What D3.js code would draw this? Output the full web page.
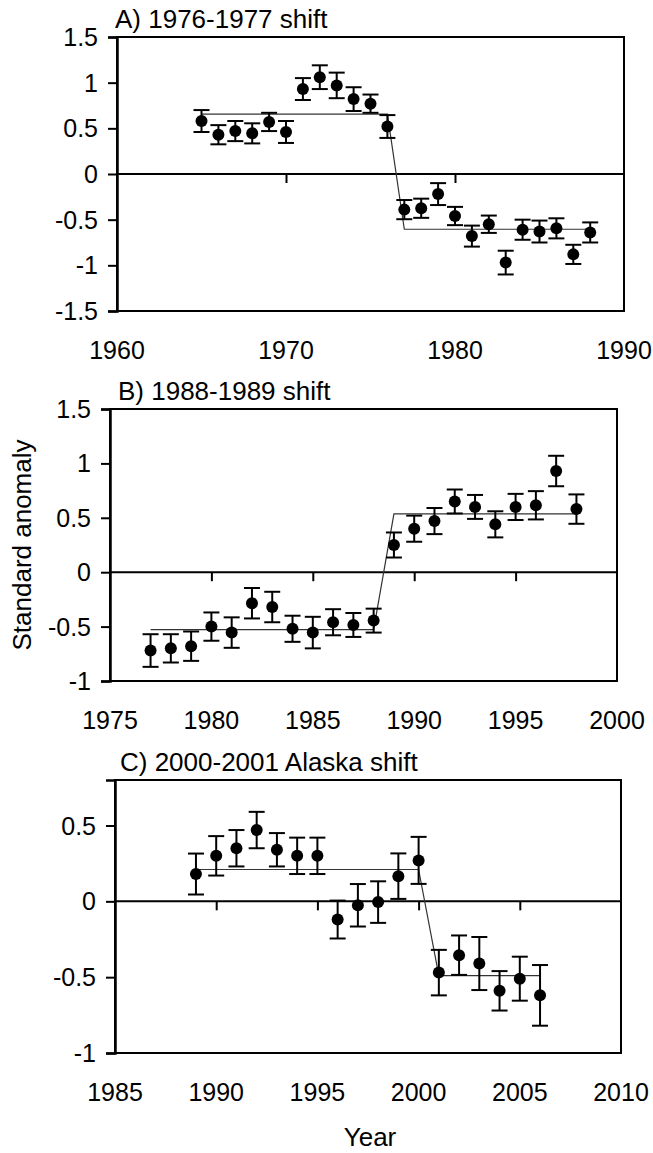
<!DOCTYPE html>
<html><head><meta charset="utf-8">
<script src="https://cdn.jsdelivr.net/npm/d3@7"></script>
<style>
html,body{margin:0;padding:0;background:#fff;}
svg text{font-family:"Liberation Sans",Arial,sans-serif;fill:#000;}
</style></head>
<body><svg id="c" width="653" height="1153"></svg>
<script>
// Panel A: 1976-1977 shift
const yearsA = [1965,1966,1967,1968,1969,1970,1971,1972,1973,1974,1975,1976,1977,1978,1979,1980,1981,1982,1983,1984,1985,1986,1987,1988];
const valuesA = [0.58,0.43,0.47,0.445,0.57,0.46,0.93,1.06,0.97,0.82,0.77,0.52,-0.39,-0.375,-0.22,-0.46,-0.68,-0.55,-0.97,-0.61,-0.63,-0.595,-0.88,-0.64];
const errorsA = [0.12,0.105,0.11,0.11,0.10,0.12,0.12,0.13,0.14,0.13,0.10,0.125,0.105,0.105,0.12,0.10,0.115,0.095,0.13,0.11,0.12,0.11,0.105,0.11];
const fitYearsA = [1965,1976,1977,1988];
const fitValuesA = [0.655,0.655,-0.605,-0.605];
const xTicksA = [1960,1970,1980,1990];
const yTicksA = [-1.5,-1,-0.5,0,0.5,1,1.5];

// Panel B: 1988-1989 shift
const yearsB = [1977,1978,1979,1980,1981,1982,1983,1984,1985,1986,1987,1988,1989,1990,1991,1992,1993,1994,1995,1996,1997,1998];
const valuesB = [-0.72,-0.70,-0.68,-0.50,-0.555,-0.285,-0.32,-0.52,-0.555,-0.46,-0.485,-0.445,0.25,0.40,0.47,0.65,0.60,0.44,0.60,0.615,0.93,0.58];
const errorsB = [0.15,0.13,0.135,0.13,0.14,0.14,0.14,0.12,0.145,0.12,0.11,0.11,0.115,0.12,0.12,0.11,0.11,0.12,0.12,0.13,0.14,0.135];
const fitYearsB = [1977,1988,1989,1998];
const fitValuesB = [-0.527,-0.527,0.536,0.536];
const xTicksB = [1975,1980,1985,1990,1995,2000];
const yTicksB = [-1,-0.5,0,0.5,1,1.5];

// Panel C: 2000-2001 Alaska shift
const yearsC = [1989,1990,1991,1992,1993,1994,1995,1996,1997,1998,1999,2000,2001,2002,2003,2004,2005,2006];
const valuesC = [0.18,0.30,0.35,0.47,0.34,0.30,0.30,-0.12,-0.026,-0.005,0.166,0.27,-0.47,-0.355,-0.41,-0.59,-0.51,-0.62];
const errorsC = [0.135,0.13,0.12,0.12,0.11,0.12,0.12,0.125,0.14,0.137,0.15,0.155,0.15,0.13,0.175,0.13,0.145,0.20];
const fitYearsC = [1989,2000,2001,2006];
const fitValuesC = [0.21,0.21,-0.49,-0.49];
const xTicksC = [1985,1990,1995,2000,2005,2010];
const yTicksC = [-1,-0.5,0,0.5];

const titles = ["A) 1976-1977 shift","B) 1988-1989 shift","C) 2000-2001 Alaska shift"];
const yLabel = "Standard anomaly";
const xLabel = "Year";

const svg = d3.select("#c");
const fmt = d => String(d);

const panels = [
  {title:titles[0], years:yearsA, values:valuesA, errors:errorsA, fy:fitYearsA, fv:fitValuesA, xt:xTicksA, yt:yTicksA,
   xd:[1960,1990], yd:[-1.5,1.5], L:117, R:624, T:37, B:311, tdx:-2},
  {title:titles[1], years:yearsB, values:valuesB, errors:errorsB, fy:fitYearsB, fv:fitValuesB, xt:xTicksB, yt:yTicksB,
   xd:[1975,2000], yd:[-1,1.5], L:110, R:617, T:409, B:681, tdx:8},
  {title:titles[2], years:yearsC, values:valuesC, errors:errorsC, fy:fitYearsC, fv:fitValuesC, xt:xTicksC, yt:yTicksC,
   xd:[1985,2010], yd:[-1,0.8], L:115, R:621, T:780, B:1053, tdx:5}
];

panels.forEach(p => {
  const x = d3.scaleLinear().domain(p.xd).range([p.L,p.R]);
  const y = d3.scaleLinear().domain(p.yd).range([p.B,p.T]);
  const g = svg.append("g");

  // frame
  g.append("rect").attr("x",p.L).attr("y",p.T).attr("width",p.R-p.L).attr("height",p.B-p.T)
    .attr("fill","none").attr("stroke","#000").attr("stroke-width",2);

  // left y axis
  const yAxis = d3.axisLeft(y).tickValues(p.yt).tickFormat(fmt).tickSize(9).tickPadding(10);
  const ya = g.append("g").attr("transform",`translate(${p.L},0)`).call(yAxis);
  ya.select(".domain").attr("stroke-width",2.5);
  ya.selectAll(".tick line").attr("stroke-width",2);
  ya.selectAll(".tick text").attr("font-size",25).attr("font-family","Liberation Sans, Arial, sans-serif").attr("dy","0.34em");

  // zero line axis with downward ticks
  const xAxis = d3.axisBottom(x).tickValues(p.xt.slice(1,-1)).tickSize(9).tickFormat("");
  const xa = g.append("g").attr("transform",`translate(0,${y(0)})`).call(xAxis);
  xa.select(".domain").attr("stroke-width",2).attr("d",`M${p.L},0H${p.R}`);
  xa.selectAll(".tick line").attr("stroke-width",2);

  // x tick labels below frame
  g.selectAll(".xl").data(p.xt).join("text")
    .attr("x",d=>x(d)).attr("y",p.B+48).attr("text-anchor","middle").attr("font-size",25).text(fmt);

  // title
  g.append("text").attr("x",p.L+p.tdx).attr("y",p.T-9).attr("font-size",26).text(p.title);

  // fit line
  const pts = p.fy.map((d,i)=>[d,p.fv[i]]);
  g.append("path").attr("d",d3.line().x(d=>x(d[0])).y(d=>y(d[1]))(pts))
    .attr("fill","none").attr("stroke","#333").attr("stroke-width",1.2);

  // error bars
  const data = p.years.map((d,i)=>({yr:d,v:p.values[i],e:p.errors[i]}));
  const eb = g.selectAll(".eb").data(data).join("g");
  eb.append("line").attr("x1",d=>x(d.yr)).attr("x2",d=>x(d.yr))
    .attr("y1",d=>y(d.v+d.e)).attr("y2",d=>y(d.v-d.e)).attr("stroke","#000").attr("stroke-width",2);
  eb.append("line").attr("x1",d=>x(d.yr)-8).attr("x2",d=>x(d.yr)+8)
    .attr("y1",d=>y(d.v+d.e)).attr("y2",d=>y(d.v+d.e)).attr("stroke","#000").attr("stroke-width",2);
  eb.append("line").attr("x1",d=>x(d.yr)-8).attr("x2",d=>x(d.yr)+8)
    .attr("y1",d=>y(d.v-d.e)).attr("y2",d=>y(d.v-d.e)).attr("stroke","#000").attr("stroke-width",2);
  eb.append("circle").attr("cx",d=>x(d.yr)).attr("cy",d=>y(d.v)).attr("r",6).attr("fill","#000");
});

svg.append("text").attr("transform","translate(31,545) rotate(-90)").attr("text-anchor","middle")
  .attr("font-size",26).text(yLabel);
svg.append("text").attr("x",370).attr("y",1146).attr("text-anchor","middle").attr("font-size",26).text(xLabel);
</script>
</body></html>
